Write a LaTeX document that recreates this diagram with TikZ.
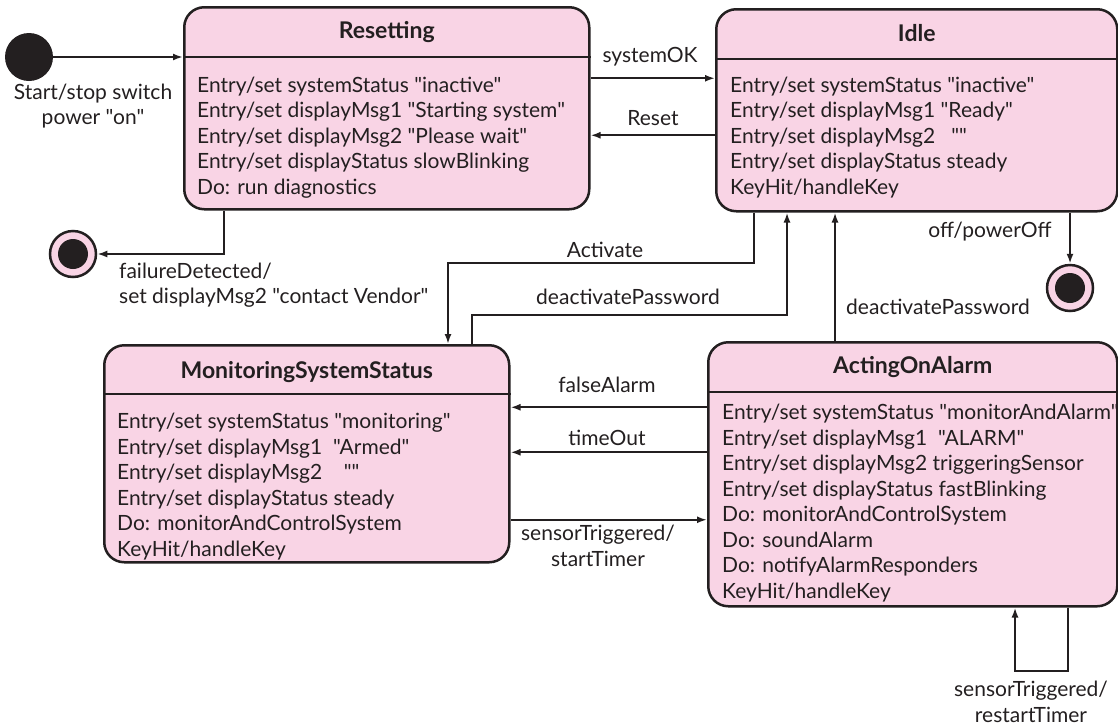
\documentclass[tikz,border=0pt]{standalone}
\usepackage{fontspec}
\setmainfont{Lato}[Ligatures=TeXOff]
\usetikzlibrary{arrows.meta,positioning,calc}
\definecolor{ink}{RGB}{35,31,32}
\definecolor{statefill}{RGB}{249,212,229}

\begin{document}
\begin{tikzpicture}[
    x=1pt, y=-1pt,
    font=\fontsize{21}{25.5}\selectfont,
    arrow/.style={
        -{Latex[length=10pt,width=7pt]},
        draw=ink,
        line width=2pt
    },
    statebox/.style={
        rectangle,
        rounded corners=20pt,
        draw=ink,
        fill=statefill,
        line width=2.5pt,
        anchor=north west,
        inner sep=0pt
    },
    title/.style={
        font=\fontsize{23}{25.5}\selectfont\bfseries,
        text=ink,
        inner sep=0pt
    },
    body/.style={
        anchor=base west,
        align=left,
        text=ink,
        inner sep=0pt
    },
    lbl/.style={
        align=center,
        text=ink,
        inner sep=0pt
    },
    initial/.style={
        circle,
        fill=ink,
        minimum size=48pt,
        inner sep=0pt
    },
    final/.style={
        circle,
        draw=ink,
        fill=statefill,
        line width=2.5pt,
        minimum size=46pt,
        inner sep=0pt,
        path picture={\fill[ink] (path picture bounding box.center) circle (15pt);}
    }
]
\useasboundingbox (0,0) rectangle (1118,726);

% states
\node[statebox, minimum width=405pt, minimum height=202pt] (reset) at (183,6) {};
\node[statebox, minimum width=401pt, minimum height=202pt] (idle) at (715,8) {};
\node[statebox, minimum width=405pt, minimum height=217pt] (monitor) at (103,344) {};
\node[statebox, minimum width=409pt, minimum height=264pt] (acting) at (707,341) {};

\draw[ink, line width=2.5pt] (reset.west |- 0,57) -- (reset.east |- 0,57);
\draw[ink, line width=2.5pt] (idle.west |- 0,59) -- (idle.east |- 0,59);
\draw[ink, line width=2.5pt] (monitor.west |- 0,394) -- (monitor.east |- 0,394);
\draw[ink, line width=2.5pt] (acting.west |- 0,392) -- (acting.east |- 0,392);

\node[title] (resettitle) at (reset.north |- 0,32) {Resetting};
\node[title] (idletitle) at (idle.north |- 0,33) {Idle};
\node[title] (monitortitle) at (monitor.north |- 0,372) {MonitoringSystemStatus};
\node[title] (actingtitle) at (acting.north |- 0,367) {ActingOnAlarm};

\node[body] (resetbody) at (197,194) {Entry/set systemStatus "inactive"\\
    Entry/set displayMsg1 "Starting system"\\
    Entry/set displayMsg2 "Please wait"\\
    Entry/set displayStatus slowBlinking\\
    Do: run diagnostics};
\node[body] (idlebody) at (730,194) {Entry/set systemStatus "inactive"\\
    Entry/set displayMsg1 "Ready"\\
    Entry/set displayMsg2 \ \ ""\\
    Entry/set displayStatus steady\\
    KeyHit/handleKey};
\node[body] (monitorbody) at (117,556) {Entry/set systemStatus "monitoring"\\
    Entry/set displayMsg1 \ "Armed"\\
    Entry/set displayMsg2 \ \ \ ""\\
    Entry/set displayStatus steady\\
    Do: monitorAndControlSystem\\
    KeyHit/handleKey};
\node[body] (actingbody) at (722,598) {Entry/set systemStatus "monitorAndAlarm"\\
    Entry/set displayMsg1 \ "ALARM"\\
    Entry/set displayMsg2 triggeringSensor\\
    Entry/set displayStatus fastBlinking\\
    Do: monitorAndControlSystem\\
    Do: soundAlarm\\
    Do: notifyAlarmResponders\\
    KeyHit/handleKey};

% pseudo states
\node[initial] (start) at (29,57) {};
\node[final] (fail) at (73,254) {};
\node[final] (off) at (1070,288) {};

% transitions
\draw[arrow] (start) -- (start -| reset.west);
\draw[arrow] ([xshift=41pt]reset.south west) |- (fail);
\draw[arrow] ([yshift=30pt]reset.east) -- ([yshift=30pt]reset.east -| idle.west);
\draw[arrow] ([yshift=-25pt]idle.west) -- ([yshift=-25pt]idle.west -| reset.east);
\draw[arrow] ([xshift=39pt]idle.south west) |- ([xshift=345pt,yshift=81pt]monitor.north west) -- ([xshift=345pt]monitor.north west);
\draw[arrow] ([xshift=369pt]monitor.north west) |- ([xshift=72pt,yshift=-102pt]idle.south west) -- ([xshift=72pt]idle.south west);
\draw[arrow] ([xshift=128pt]acting.north west) -- ([xshift=128pt]acting.north west |- idle.south);
\draw[arrow] (off |- idle.south) -- (off);
\draw[arrow] ([yshift=67pt]acting.west) -- ([yshift=67pt]acting.west -| monitor.east);
\draw[arrow] ([yshift=22pt]acting.west) -- ([yshift=22pt]acting.west -| monitor.east);
\draw[arrow] ([yshift=-66pt]monitor.east) -- ([yshift=-66pt]monitor.east -| acting.west);
\draw[arrow] ([xshift=361pt]acting.south west) -- ++(0,63) -| ([xshift=308pt]acting.south west);

% labels
\node[lbl] (startlbl) at (93,106) {Start/stop switch\\power "on"};
\node[lbl] (oklbl) at (650,57) {systemOK};
\node[lbl] (resetlbl) at (653,118) {Reset};
\node[lbl, align=left, anchor=west] (faillbl) at (119,285) {failureDetected/\\set displayMsg2 "contact Vendor"};
\node[lbl] (activatelbl) at (605,250) {Activate};
\node[lbl] (deactlbl) at (628,297) {deactivatePassword};
\node[lbl] (deactlbltwo) at (938,307) {deactivatePassword};
\node[lbl] (offlbl) at (990,232) {off/powerOff};
\node[lbl] (falselbl) at (607,385) {falseAlarm};
\node[lbl] (timelbl) at (607,438) {timeOut};
\node[lbl] (sensorlbl) at (598,546) {sensorTriggered/\\startTimer};
\node[lbl] (restartlbl) at (1031,702) {sensorTriggered/\\restartTimer};

\end{tikzpicture}
\end{document}
